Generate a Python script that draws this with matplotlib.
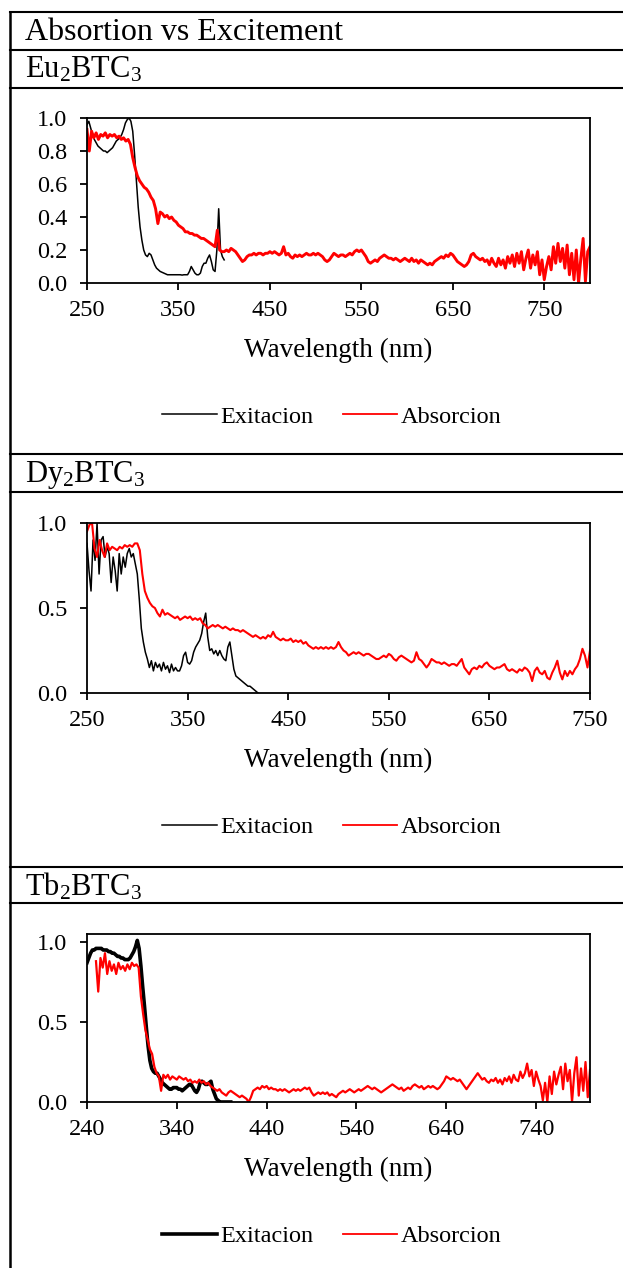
import numpy as np
import matplotlib.pyplot as plt
from matplotlib.lines import Line2D

plt.rcParams['font.family'] = 'Liberation Serif'
plt.rcParams['mathtext.fontset'] = 'custom'
plt.rcParams['mathtext.rm'] = 'Liberation Serif'
plt.rcParams['mathtext.it'] = 'Liberation Serif:italic'

# ---- Eu2BTC3 ----
eu_exc_start, eu_exc_step = 250, 2
eu_exc = [0.96, 0.98, 0.94, 0.90, 0.87, 0.85, 0.83, 0.82, 0.81, 0.80,
          0.80, 0.79, 0.80, 0.81, 0.82, 0.84, 0.86, 0.87, 0.88, 0.90,
          0.93, 0.97, 0.99, 1.00, 0.98, 0.92, 0.78, 0.62, 0.46, 0.34,
          0.26, 0.20, 0.17, 0.16, 0.18, 0.17, 0.14, 0.11, 0.09, 0.08,
          0.07, 0.065, 0.06, 0.055, 0.05, 0.05, 0.05, 0.05, 0.05, 0.05,
          0.05, 0.05, 0.048, 0.05, 0.05, 0.05, 0.07, 0.10, 0.08, 0.06,
          0.05, 0.05, 0.06, 0.10, 0.12, 0.12, 0.15, 0.17, 0.13, 0.08,
          0.07, 0.20, 0.45, 0.20, 0.16, 0.14]

eu_abs_start, eu_abs_step = 250, 2.5
eu_abs = [0.93, 0.80, 0.92, 0.88, 0.91, 0.87, 0.90, 0.89, 0.91, 0.88, 0.90, 0.89, 0.90, 0.88, 0.89, 0.87, 0.88, 0.86, 0.87, 0.84,
          0.76, 0.70, 0.65, 0.62, 0.60, 0.58, 0.57, 0.55, 0.52, 0.50, 0.45, 0.36, 0.43, 0.42, 0.40, 0.41, 0.39, 0.40, 0.38, 0.37,
          0.35, 0.34, 0.33, 0.31, 0.31, 0.30, 0.30, 0.29, 0.29, 0.28, 0.27, 0.27, 0.26, 0.25, 0.24, 0.23, 0.22, 0.32, 0.20, 0.19,
          0.19, 0.20, 0.19, 0.21, 0.20, 0.19, 0.17, 0.15, 0.13, 0.14, 0.16, 0.17, 0.17, 0.18, 0.17, 0.18, 0.18, 0.17, 0.18, 0.18,
          0.19, 0.18, 0.19, 0.18, 0.17, 0.18, 0.22, 0.17, 0.18, 0.16, 0.15, 0.17, 0.16, 0.17, 0.16, 0.17, 0.18, 0.17, 0.17, 0.18,
          0.17, 0.18, 0.17, 0.16, 0.14, 0.13, 0.14, 0.16, 0.18, 0.17, 0.16, 0.17, 0.17, 0.16, 0.17, 0.18, 0.17, 0.19, 0.20, 0.19,
          0.20, 0.18, 0.16, 0.13, 0.12, 0.13, 0.14, 0.13, 0.15, 0.16, 0.17, 0.16, 0.15, 0.15, 0.14, 0.15, 0.14, 0.13, 0.14, 0.15,
          0.14, 0.13, 0.15, 0.13, 0.14, 0.12, 0.14, 0.13, 0.12, 0.11, 0.12, 0.11, 0.13, 0.14, 0.15, 0.16, 0.15, 0.17, 0.16, 0.18,
          0.17, 0.15, 0.13, 0.12, 0.11, 0.10, 0.11, 0.13, 0.17, 0.18, 0.16, 0.15, 0.14, 0.15, 0.13, 0.14, 0.11, 0.15, 0.12, 0.10,
          0.15, 0.11, 0.14, 0.09, 0.16, 0.12, 0.17, 0.10, 0.18, 0.12, 0.19, 0.08, 0.15, 0.20, 0.09, 0.17, 0.11, 0.19, 0.05, 0.14,
          0.02, 0.10, 0.16, 0.08, 0.22, 0.12, 0.24, 0.13, 0.21, 0.09, 0.23, 0.05, 0.18, 0.02, 0.20, 0.00, 0.15, 0.27, 0.01, 0.19,
          0.22]

# ---- Dy2BTC3 ----
dy_exc_start, dy_exc_step = 250, 2
dy_exc = [0.88, 0.72, 0.60, 0.90, 0.78, 1.00, 0.70, 0.90, 0.92, 0.80,
          0.86, 0.82, 0.65, 0.80, 0.72, 0.60, 0.82, 0.70, 0.80, 0.74,
          0.82, 0.85, 0.80, 0.82, 0.76, 0.70, 0.55, 0.38, 0.30, 0.24,
          0.20, 0.15, 0.19, 0.13, 0.18, 0.15, 0.17, 0.13, 0.18, 0.14,
          0.16, 0.12, 0.17, 0.13, 0.15, 0.13, 0.13, 0.16, 0.22, 0.24,
          0.18, 0.17, 0.19, 0.24, 0.27, 0.29, 0.31, 0.35, 0.42, 0.47,
          0.33, 0.25, 0.26, 0.23, 0.25, 0.22, 0.25, 0.22, 0.20, 0.19,
          0.27, 0.30, 0.22, 0.14, 0.10, 0.09, 0.08, 0.07, 0.06, 0.05,
          0.04, 0.04, 0.03, 0.02, 0.01, 0.00]

dy_abs_start, dy_abs_step = 250, 2.5
dy_abs = [0.95, 0.99, 1.00, 0.85, 0.80, 0.90, 0.84, 0.80, 0.88, 0.84, 0.86, 0.85, 0.84, 0.86, 0.85, 0.87, 0.86, 0.87, 0.86, 0.88,
          0.88, 0.84, 0.70, 0.60, 0.56, 0.53, 0.51, 0.50, 0.47, 0.45, 0.49, 0.46, 0.47, 0.46, 0.45, 0.44, 0.45, 0.43, 0.44, 0.45,
          0.44, 0.45, 0.43, 0.44, 0.43, 0.44, 0.41, 0.40, 0.38, 0.39, 0.40, 0.39, 0.40, 0.39, 0.38, 0.39, 0.38, 0.37, 0.38, 0.37,
          0.37, 0.36, 0.37, 0.36, 0.35, 0.34, 0.33, 0.34, 0.33, 0.32, 0.33, 0.32, 0.34, 0.33, 0.36, 0.33, 0.32, 0.31, 0.32, 0.31,
          0.31, 0.32, 0.30, 0.31, 0.30, 0.31, 0.29, 0.30, 0.28, 0.27, 0.26, 0.27, 0.26, 0.27, 0.26, 0.27, 0.26, 0.27, 0.26, 0.27,
          0.30, 0.27, 0.25, 0.24, 0.22, 0.23, 0.24, 0.23, 0.24, 0.23, 0.22, 0.23, 0.23, 0.22, 0.21, 0.20, 0.20, 0.21, 0.22, 0.21,
          0.23, 0.22, 0.20, 0.19, 0.21, 0.22, 0.21, 0.20, 0.19, 0.18, 0.19, 0.24, 0.20, 0.19, 0.17, 0.15, 0.17, 0.20, 0.19, 0.18,
          0.18, 0.17, 0.18, 0.17, 0.16, 0.17, 0.17, 0.16, 0.18, 0.20, 0.15, 0.13, 0.11, 0.14, 0.15, 0.14, 0.16, 0.15, 0.17, 0.18,
          0.16, 0.15, 0.14, 0.15, 0.15, 0.16, 0.17, 0.14, 0.13, 0.14, 0.13, 0.12, 0.14, 0.13, 0.15, 0.14, 0.12, 0.07, 0.13, 0.15,
          0.12, 0.11, 0.13, 0.09, 0.08, 0.12, 0.15, 0.19, 0.12, 0.08, 0.13, 0.10, 0.13, 0.11, 0.14, 0.16, 0.20, 0.26, 0.22, 0.15,
          0.25]

# ---- Tb2BTC3 ----
tb_exc_start, tb_exc_step = 240, 2
tb_exc = [0.87, 0.90, 0.93, 0.95, 0.95, 0.96, 0.96, 0.96, 0.96, 0.95,
          0.95, 0.95, 0.94, 0.94, 0.93, 0.93, 0.92, 0.91, 0.91, 0.90,
          0.90, 0.89, 0.89, 0.89, 0.90, 0.92, 0.94, 0.97, 1.01, 0.96,
          0.85, 0.72, 0.60, 0.47, 0.35, 0.26, 0.21, 0.19, 0.18, 0.18,
          0.16, 0.14, 0.12, 0.11, 0.10, 0.09, 0.08, 0.08, 0.09, 0.09,
          0.09, 0.08, 0.08, 0.07, 0.08, 0.09, 0.10, 0.11, 0.11, 0.09,
          0.07, 0.06, 0.08, 0.12, 0.13, 0.12, 0.11, 0.11, 0.12, 0.13,
          0.08, 0.05, 0.02, 0.01, 0.00, 0.00, 0.00, 0.00, 0.00, 0.00,
          0.00]

tb_abs_start, tb_abs_step = 250, 2.5
tb_abs = [0.88, 0.69, 0.90, 0.84, 0.93, 0.80, 0.88, 0.82, 0.86, 0.80, 0.87, 0.83, 0.85, 0.82, 0.86, 0.83, 0.87, 0.85, 0.86, 0.84,
          0.66, 0.55, 0.45, 0.39, 0.33, 0.30, 0.22, 0.18, 0.16, 0.07, 0.17, 0.15, 0.17, 0.14, 0.16, 0.15, 0.14, 0.16, 0.15, 0.14,
          0.15, 0.13, 0.14, 0.12, 0.13, 0.12, 0.14, 0.12, 0.13, 0.11, 0.12, 0.10, 0.09, 0.08, 0.07, 0.08, 0.06, 0.05, 0.04, 0.06,
          0.07, 0.06, 0.05, 0.04, 0.03, 0.04, 0.03, 0.02, 0.00, 0.03, 0.07, 0.08, 0.09, 0.08, 0.10, 0.09, 0.10, 0.08, 0.09, 0.08,
          0.08, 0.07, 0.08, 0.07, 0.08, 0.07, 0.06, 0.07, 0.08, 0.07, 0.08, 0.07, 0.08, 0.09, 0.08, 0.09, 0.06, 0.04, 0.05, 0.06,
          0.05, 0.06, 0.05, 0.06, 0.04, 0.05, 0.04, 0.03, 0.05, 0.06, 0.07, 0.06, 0.07, 0.08, 0.07, 0.06, 0.07, 0.08, 0.07, 0.08,
          0.09, 0.10, 0.09, 0.08, 0.09, 0.08, 0.07, 0.06, 0.07, 0.08, 0.09, 0.10, 0.11, 0.10, 0.09, 0.08, 0.09, 0.07, 0.08, 0.09,
          0.08, 0.10, 0.11, 0.10, 0.09, 0.10, 0.08, 0.09, 0.10, 0.09, 0.10, 0.09, 0.08, 0.09, 0.11, 0.13, 0.16, 0.15, 0.14, 0.15,
          0.14, 0.13, 0.14, 0.12, 0.10, 0.08, 0.10, 0.12, 0.14, 0.16, 0.18, 0.16, 0.14, 0.15, 0.13, 0.12, 0.14, 0.13, 0.15, 0.12,
          0.14, 0.11, 0.15, 0.13, 0.16, 0.12, 0.17, 0.14, 0.13, 0.19, 0.15, 0.18, 0.24, 0.16, 0.20, 0.10, 0.19, 0.14, 0.10, 0.01,
          0.12, 0.00, 0.16, 0.05, 0.19, 0.11, 0.17, 0.22, 0.08, 0.24, 0.13, 0.20, 0.00, 0.18, 0.28, 0.04, 0.21, 0.07, 0.25, 0.03,
          0.20]

labels = ['Exitacion', 'Absorcion']
xlabel = 'Wavelength (nm)'
header = 'Absortion vs Excitement'


def grid(start, step, vals):
    return start + step * np.arange(len(vals))


panels = [
    dict(name=r'Eu$_{\mathrm{2}}$BTC$_{\mathrm{3}}$', name_y=70, top=118, bottom=283,
         exc=(grid(eu_exc_start, eu_exc_step, eu_exc), eu_exc),
         ab=(grid(eu_abs_start, eu_abs_step, eu_abs), eu_abs),
         xlim=(250, 800), xticks=np.arange(250, 751, 100), ylim=(0, 1.0),
         yticks=[0.0, 0.2, 0.4, 0.6, 0.8, 1.0], exc_lw=1.1, abs_lw=2.1),
    dict(name=r'Dy$_{\mathrm{2}}$BTC$_{\mathrm{3}}$', name_y=475, top=523, bottom=693,
         exc=(grid(dy_exc_start, dy_exc_step, dy_exc), dy_exc),
         ab=(grid(dy_abs_start, dy_abs_step, dy_abs), dy_abs),
         xlim=(250, 750), xticks=np.arange(250, 751, 100), ylim=(0, 1.0),
         yticks=[0.0, 0.5, 1.0], exc_lw=1.1, abs_lw=1.5),
    dict(name=r'Tb$_{\mathrm{2}}$BTC$_{\mathrm{3}}$', name_y=887, top=934, bottom=1102,
         exc=(grid(tb_exc_start, tb_exc_step, tb_exc), tb_exc),
         ab=(grid(tb_abs_start, tb_abs_step, tb_abs), tb_abs),
         xlim=(240, 800), xticks=np.arange(240, 741, 100), ylim=(0, 1.05),
         yticks=[0.0, 0.5, 1.0], exc_lw=2.6, abs_lw=1.6),
]

W, H = 623, 1268
fig = plt.figure(figsize=(W / 100, H / 100), dpi=100)


def fx(x):
    return x / W


def fy(y):
    return 1 - y / H


# table borders
for y in [12, 50, 88, 454, 492, 867, 903]:
    fig.add_artist(Line2D([fx(10), 1], [fy(y), fy(y)], transform=fig.transFigure,
                          color='black', lw=1.5))
fig.add_artist(Line2D([fx(10), fx(10)], [fy(12), 0], transform=fig.transFigure,
                      color='black', lw=1.8))

fig.text(fx(25), fy(33), header, fontsize=23, ha='left', va='center')

for p in panels:
    fig.text(fx(25), fy(p['name_y']), p['name'], fontsize=22, ha='left', va='center')
    ax = fig.add_axes([fx(87), fy(p['bottom']), (590 - 87) / W, (p['bottom'] - p['top']) / H])
    l1, = ax.plot(*p['exc'], color='black', lw=p['exc_lw'])
    l2, = ax.plot(*p['ab'], color='#ff0000', lw=p['abs_lw'])
    ax.set_xlim(*p['xlim'])
    ax.set_ylim(*p['ylim'])
    ax.set_xticks(p['xticks'])
    ax.set_yticks(p['yticks'])
    ax.set_yticklabels([f'{v:.1f}' for v in p['yticks']])
    for s in ax.spines.values():
        s.set_linewidth(1.3)
    ax.tick_params(direction='out', length=5, width=1.3, labelsize=17.5)
    ax.tick_params(axis='x', pad=7)
    ax.tick_params(axis='y', pad=9)
    fig.text(fx(338), fy(p['bottom'] + 67), xlabel, fontsize=19.5, ha='center', va='center')
    leg = fig.legend([l1, l2], labels, loc='center', bbox_to_anchor=(fx(332), fy(p['bottom'] + 134)),
                     ncol=2, frameon=False, fontsize=17.5, handlelength=2.25, handletextpad=0.15,
                     columnspacing=1.2)
    # legend swatch for the red series is drawn thin, as in the original
    leg.get_lines()[1].set_linewidth(1.3)

fig.savefig('out.png', dpi=100)
